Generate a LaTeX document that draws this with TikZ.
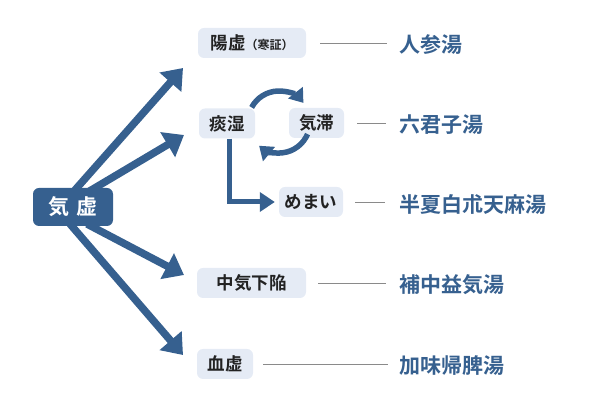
\documentclass[tikz,border=0pt]{standalone}
\usepackage{fontspec}
\setmainfont{Noto Sans CJK JP}[BoldFont={Noto Sans CJK JP Bold}]
\usetikzlibrary{arrows.meta,calc}
\pgfdeclarelayer{bg}
\pgfsetlayers{bg,main}
\definecolor{navy}{HTML}{36608F}
\definecolor{boxfill}{HTML}{E5EBF5}
\definecolor{ink}{HTML}{222222}
\definecolor{rulegray}{HTML}{8A8A8A}
\begin{document}
\begin{tikzpicture}[x=1pt,y=-1pt,
 box/.style={fill=boxfill, rounded corners=6pt, minimum height=30pt, inner sep=0pt, text=ink, font=\bfseries\fontsize{17.5}{17.5}\selectfont},
 mainbox/.style={fill=navy, rounded corners=6pt, minimum width=80pt, minimum height=38pt, text=white, font=\bfseries\fontsize{21}{21}\selectfont, inner sep=0pt},
 remedy/.style={anchor=west, text=navy, font=\bfseries\fontsize{21}{21}\selectfont, inner sep=0pt},
 link/.style={draw=rulegray, line width=0.8pt},
 bigarrow/.style={draw=navy, line width=7.5pt, -{Triangle[length=19pt,width=28pt]}},
 cyc/.style={draw=navy, line width=5.5pt, -{Triangle[length=13pt,width=18pt]}},
 flow/.style={draw=navy, line width=5pt, -{Triangle[length=15pt,width=19pt]}},
]
\useasboundingbox (0,0) rectangle (595,419);
% nodes
\node[mainbox] (kikyo) at (73,207) {気\hspace{0.3em}虚};
\node[box, minimum width=108pt] (yokyo) at (252,43) {陽虚{\fontsize{12}{12}\selectfont （寒証）}};
\node[box, minimum width=56pt] (tan) at (227,123.5) {痰湿};
\node[box, minimum width=55pt] (kitai) at (316.5,123) {気滞};
\node[box, minimum width=64pt] (memai) at (311,202) {めまい};
\node[box, minimum width=109pt] (chuki) at (251.5,283) {中気下陥};
\node[box, minimum width=56pt] (kekkyo) at (225,364) {血虚};
% remedies
\node[remedy] (r1) at (399,45) {人参湯};
\node[remedy] (r2) at (399,125) {六君子湯};
\node[remedy] (r3) at (399,204.5) {半夏白朮天麻湯};
\node[remedy] (r4) at (399,285) {補中益気湯};
\node[remedy] (r5) at (399,366) {加味帰脾湯};
% gray links
\draw[link] ([xshift=14pt]yokyo.east) -- ([xshift=-12pt]yokyo.east -| r1.west);
\draw[link] ([xshift=13pt]kitai.east) -- ([xshift=-13pt]kitai.east -| r2.west);
\draw[link] ([xshift=12pt]memai.east) -- ([xshift=-14pt]memai.east -| r3.west);
\draw[link] ([xshift=12pt]chuki.east) -- ([xshift=-13pt]chuki.east -| r4.west);
\draw[link] ([xshift=10pt]kekkyo.east) -- ([xshift=-11pt]kekkyo.east -| r5.west);
% arrows
\coordinate (t1) at (183,68);
\coordinate (t2) at (184,135);
\coordinate (t3) at (184,275);
\coordinate (t4) at (183,355);
\coordinate (cc) at (279,122);
\begin{pgfonlayer}{bg}
\draw[bigarrow] ([shift={(2,-17)}]kikyo.center) -- (t1);
\draw[bigarrow] ([shift={(15,-15)}]kikyo.center) -- (t2);
\draw[bigarrow] ([shift={(14,17)}]kikyo.center) -- (t3);
\draw[bigarrow] ([shift={(-3,17)}]kikyo.center) -- (t4);
\end{pgfonlayer}
\draw[cyc] (cc) ++(-152:31) arc[start angle=-152, end angle=-38, radius=31];
\draw[cyc] (cc) ++(23:31) arc[start angle=23, end angle=130, radius=31];
\draw[flow] ([xshift=2pt]tan.south) |- ([xshift=-4pt]memai.west);
\end{tikzpicture}
\end{document}
